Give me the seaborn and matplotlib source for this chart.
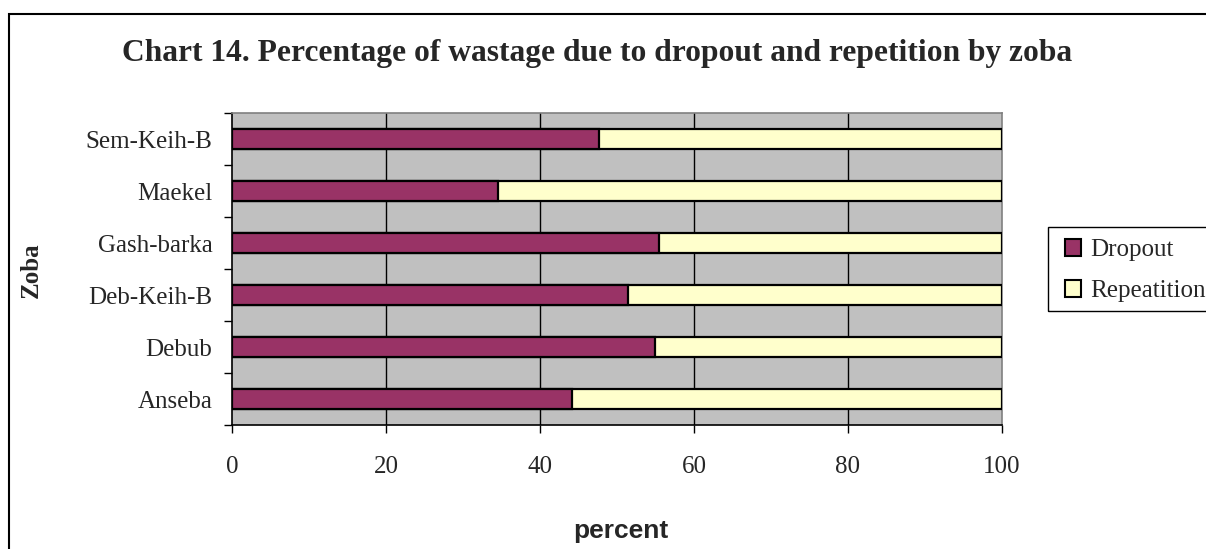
import matplotlib
matplotlib.use("Agg")
import matplotlib.pyplot as plt
from matplotlib.patches import Rectangle, Patch
from matplotlib.ticker import FixedLocator
import seaborn as sns
import pandas as pd
import numpy as np

zobas = ["Sem-Keih-B", "Maekel", "Gash-barka", "Deb-Keih-B", "Debub", "Anseba"]
dropout = [47.7, 34.5, 55.5, 51.4, 54.9, 44.1]
repetition = [52.3, 65.5, 44.5, 48.6, 45.1, 55.9]
x_ticks = [0, 20, 40, 60, 80, 100]

title = "Chart 14. Percentage of wastage due to dropout and repetition by zoba"
c_drop = "#993366"
c_rep = "#FFFFCC"

df = pd.DataFrame({"zoba": zobas, "dropout": dropout, "repetition": repetition})
df["total"] = df["dropout"] + df["repetition"]

sns.set_theme(style="white")
plt.rcParams["font.family"] = ["Liberation Serif", "DejaVu Serif"]

W, H = 1206, 549
fig = plt.figure(figsize=(W / 100, H / 100), dpi=100)
ax = fig.add_axes([232/W, 1-425/H, (1002-232)/W, (425-113)/H])
ax.set_facecolor("#C0C0C0")

sns.barplot(data=df, y="zoba", x="total", order=zobas, color=c_rep, width=0.4,
            edgecolor="black", linewidth=1.6, saturation=1, ax=ax, zorder=3)
sns.barplot(data=df, y="zoba", x="dropout", order=zobas, color=c_drop, width=0.4,
            edgecolor="black", linewidth=1.6, saturation=1, ax=ax, zorder=4)

ax.set_xlim(0, 100)
ax.set_ylim(len(zobas) - 0.5, -0.5)
ax.set_xticks(x_ticks)
ax.set_xticklabels([str(v) for v in x_ticks], fontsize=18)
for v in x_ticks[1:-1]:
    ax.axvline(v, color="black", lw=1.0, zorder=1)

# labels at category centres (minor), tick marks at boundaries (major)
ax.yaxis.set_major_locator(FixedLocator(np.arange(-0.5, len(zobas), 1.0)))
ax.yaxis.set_minor_locator(FixedLocator(np.arange(len(zobas))))
ax.set_yticklabels([], minor=False)
ax.set_yticklabels(zobas, minor=True, fontsize=18)
ax.tick_params(axis="y", which="major", left=True, length=6, width=1, color="black", direction="out")
ax.tick_params(axis="y", which="minor", left=True, length=0, pad=14)
ax.tick_params(axis="x", which="major", bottom=True, length=6, width=1, color="black", direction="out", pad=16)
ax.set_xlabel("")
ax.set_ylabel("")
ax.grid(False)

for s in ["left", "bottom"]:
    ax.spines[s].set_color("black")
    ax.spines[s].set_linewidth(1.2)
for s in ["top", "right"]:
    ax.spines[s].set_color("#808080")
    ax.spines[s].set_linewidth(1.2)

fig.text(597/W, 1-54/H, title, ha="center", va="center", fontsize=22.7, fontweight="bold")
fig.text(621/W, 1-531/H, "percent", ha="center", va="center", fontsize=19,
         fontweight="bold", family=["Liberation Sans", "DejaVu Sans"])
fig.text(31/W, 1-270/H, "Zoba", ha="center", va="center", rotation=90, fontsize=18, fontweight="bold")

handles = [Patch(facecolor=c_drop, edgecolor="black", lw=1.5, label="Dropout"),
           Patch(facecolor=c_rep, edgecolor="black", lw=1.5, label="Repeatition")]
leg = fig.legend(handles=handles, loc="upper left", bbox_to_anchor=(1065/W, 1-239/H),
                 fontsize=18, frameon=False, handlelength=0.65, handleheight=0.65,
                 handletextpad=0.35, borderpad=0, labelspacing=0.75, borderaxespad=0)

# legend box
fig.patches.append(Rectangle((1048/W, 1-311/H), 0.5, (311-227)/H, transform=fig.transFigure,
                             fill=False, edgecolor="black", lw=1.0, zorder=0))
# outer chart border
fig.patches.append(Rectangle((9/W, -0.01), 1.0, 1-14/H + 0.01, transform=fig.transFigure,
                             fill=False, edgecolor="black", lw=1.5, zorder=0))

fig.savefig("out.png", dpi=100, facecolor="white")
